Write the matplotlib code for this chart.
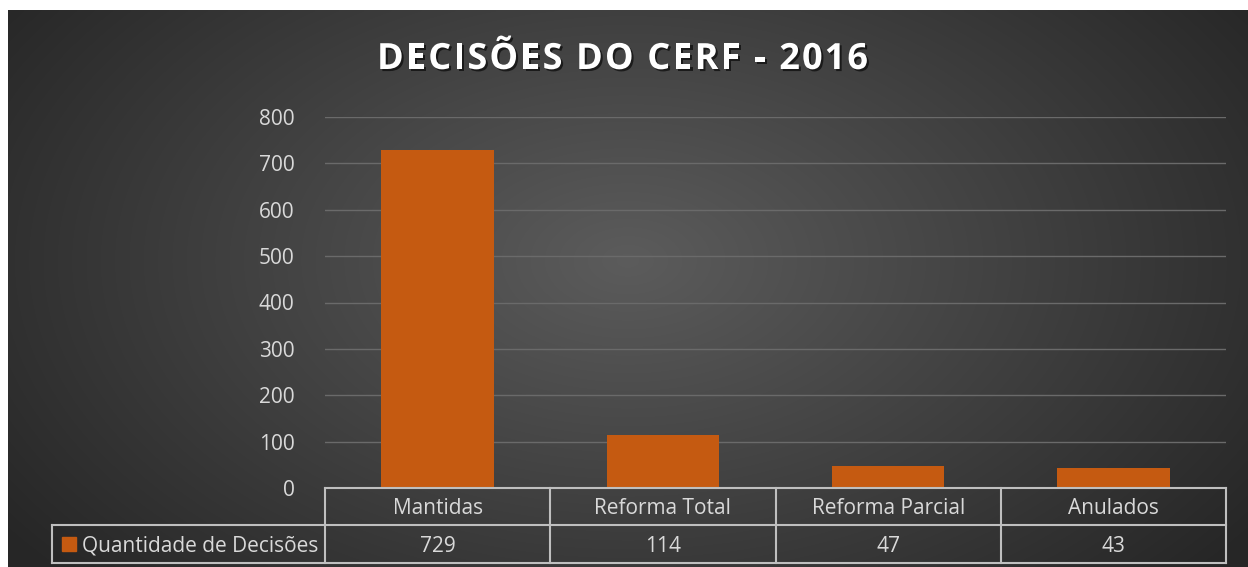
import numpy as np
import matplotlib.pyplot as plt
import matplotlib.patheffects as pe
from matplotlib.patches import Rectangle
from matplotlib.font_manager import FontProperties

categories = ['Mantidas', 'Reforma Total', 'Reforma Parcial', 'Anulados']
values = [729, 114, 47, 43]
series_name = 'Quantidade de Decisões'
yticks = [0, 100, 200, 300, 400, 500, 600, 700, 800]
title_text = 'DECISÕES DO CERF - 2016'

W, H = 1248, 567
bar_color = '#C55A11'
text_color = '#D9D9D9'
line_color = '#BFBFBF'
fs = 15

plt.rcParams['font.family'] = ['Open Sans', 'DejaVu Sans']

fig = plt.figure(figsize=(W / 100, H / 100), dpi=100)
fig.patch.set_facecolor('white')

# dark radial gradient background (starts a few px in from top/left)
bg = fig.add_axes([8 / W, 0, 1 - 8 / W, 1 - 10 / H])
bg.set_axis_off()
yy, xx = np.mgrid[0:200, 0:440]
xx = xx / 439.0
yy = yy / 199.0
r = np.sqrt(((xx - 0.5) / 0.62) ** 2 + ((yy - 0.45) / 0.85) ** 2)
shade = np.clip(0.36 - 0.21 * r, 0.15, 0.36)
bg.imshow(np.dstack([shade] * 3), aspect='auto', extent=[0, 1, 0, 1], interpolation='bilinear')
bg.set_xlim(0, 1)
bg.set_ylim(0, 1)

x0, x1 = 325, 1226
ybot, ytop = 488, 117
ax = fig.add_axes([x0 / W, 1 - ybot / H, (x1 - x0) / W, (ybot - ytop) / H])
ax.patch.set_alpha(0)

pos = np.arange(len(categories))
ax.bar(pos, values, width=0.5, color=bar_color, zorder=3)
ax.set_xlim(-0.5, len(categories) - 0.5)
ax.set_ylim(0, 800)
ax.set_yticks(yticks)
ax.set_yticklabels([str(t) for t in yticks], color=text_color, fontsize=fs)
ax.tick_params(axis='y', length=0, pad=22)
ax.set_xticks([])
ax.grid(axis='y', color='#6A6A6A', linewidth=1, zorder=0)
for s in ax.spines.values():
    s.set_visible(False)

# data table below the plot, in pixel coordinates of the figure
def fx(px):
    return px / W

def fy(py):
    return 1 - py / H

row_top, row_mid, row_bot = 488, 525, 563
label_left = 52
col_w = (x1 - x0) / len(categories)
lw = 1.5
fig.add_artist(plt.Line2D([fx(x0), fx(x1)], [fy(row_top)] * 2, color=line_color, lw=lw))
for yl in (row_mid, row_bot):
    fig.add_artist(plt.Line2D([fx(label_left), fx(x1)], [fy(yl)] * 2, color=line_color, lw=lw))
for i in range(len(categories) + 1):
    xv = x0 + i * col_w
    fig.add_artist(plt.Line2D([fx(xv)] * 2, [fy(row_top), fy(row_bot)], color=line_color, lw=lw))
fig.add_artist(plt.Line2D([fx(label_left)] * 2, [fy(row_mid), fy(row_bot)], color=line_color, lw=lw))

for i, (cat, v) in enumerate(zip(categories, values)):
    cx = x0 + (i + 0.5) * col_w
    fig.text(fx(cx), fy((row_top + row_mid) / 2 + 2), cat, color=text_color, fontsize=fs,
             ha='center', va='center')
    fig.text(fx(cx), fy((row_mid + row_bot) / 2 + 2), str(v), color=text_color, fontsize=fs,
             ha='center', va='center')

fig.add_artist(Rectangle((fx(62), fy(551)), 14 / W, 14 / H, color=bar_color,
                         transform=fig.transFigure))
fig.text(fx(318), fy((row_mid + row_bot) / 2 + 2), series_name, color=text_color, fontsize=fs,
         ha='right', va='center')

# title with letter spacing: place characters one by one
fp = FontProperties(family=['Open Sans', 'DejaVu Sans'], weight='bold', size=26)
renderer = fig.canvas.get_renderer()
bar_w = renderer.get_text_width_height_descent('|', fp, ismath=False)[0]
adv = [renderer.get_text_width_height_descent(c + '|', fp, ismath=False)[0] - bar_w
       for c in title_text]
t_left, t_right = 377, 868
spacing = (t_right - t_left - sum(adv)) / (len(title_text) - 1)
shadow = [pe.withSimplePatchShadow(offset=(1.5, -1.5), shadow_rgbFace='black', alpha=0.6)]
xc = t_left
for c, a in zip(title_text, adv):
    fig.text(fx(xc), fy(60), c, fontproperties=fp, color='white', ha='left', va='center',
             path_effects=shadow)
    xc += a + spacing

fig.savefig('out.png', dpi=100)
